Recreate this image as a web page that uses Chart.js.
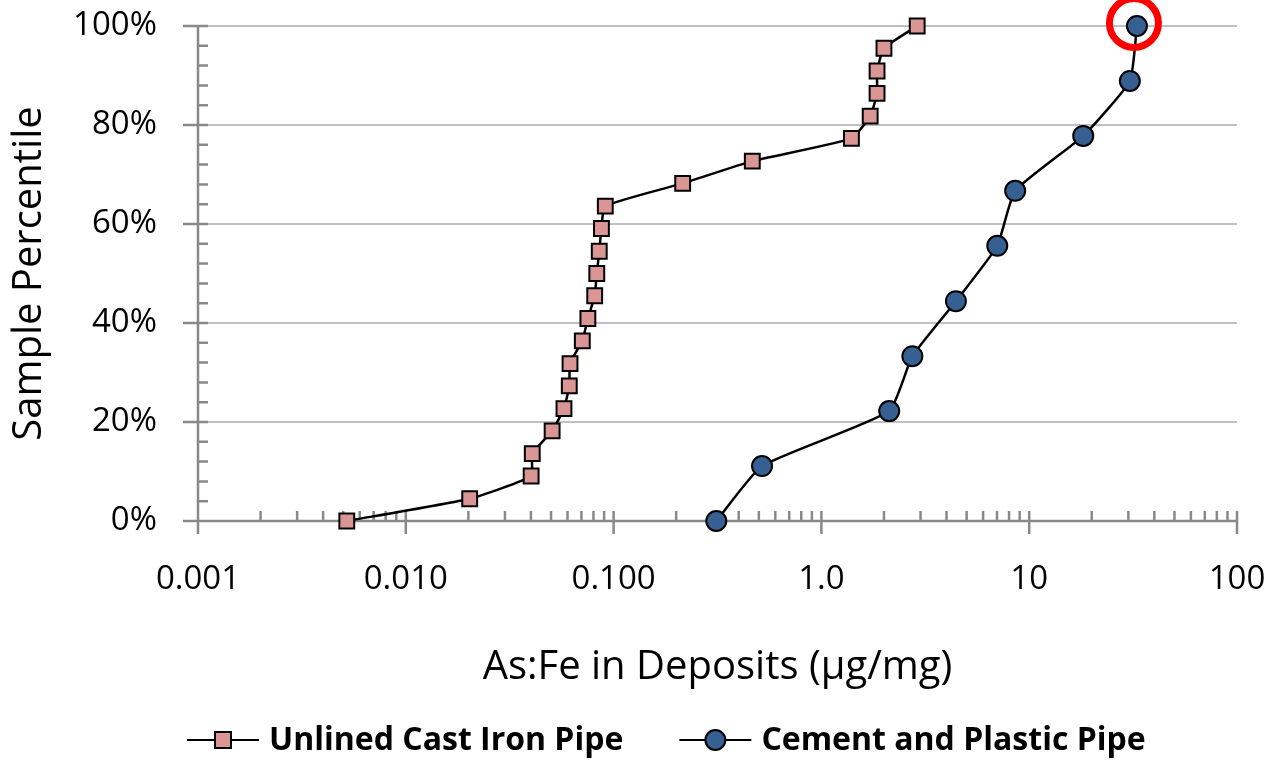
<!DOCTYPE html>
<html lang="en">
<head>
<meta charset="UTF-8" />
<title>As:Fe in Deposits</title>
<script src="https://cdn.jsdelivr.net/npm/chart.js"></script>
<style>
    html, body { margin: 0; padding: 0; background: #fff; }
    #wrap { width: 1283px; height: 760px; }
</style>
</head>
<body>
<div id="wrap"><canvas id="chart"></canvas></div>
<script>
// As:Fe ratio (ug/mg) and sample percentile for each pipe type
const castIronRatio = [0.0052, 0.0203, 0.0401, 0.0406, 0.0506, 0.0577, 0.0612, 0.0617, 0.0707, 0.0752,
    0.0811, 0.083, 0.0853, 0.0874, 0.0912, 0.215, 0.465, 1.395, 1.717, 1.853, 1.853, 2.0, 2.89];
const castIronPct = [0, 4.5, 9.1, 13.6, 18.2, 22.7, 27.3, 31.8, 36.4, 40.9,
    45.5, 50, 54.5, 59.1, 63.6, 68.2, 72.7, 77.3, 81.8, 86.4, 90.9, 95.5, 100];
const cementRatio = [0.312, 0.518, 2.12, 2.74, 4.44, 7.02, 8.56, 18.2, 30.5, 33.0];
const cementPct = [0, 11.1, 22.2, 33.3, 44.4, 55.6, 66.7, 77.8, 88.9, 100];

const seriesNames = ["Unlined Cast Iron Pipe", "Cement and Plastic Pipe"];
const xTickValues = [0.001, 0.01, 0.1, 1, 10, 100];
const xTickLabels = ["0.001", "0.010", "0.100", "1.0", "10", "100"];
const yTickValues = [0, 20, 40, 60, 80, 100];
const yTickLabels = ["0%", "20%", "40%", "60%", "80%", "100%"];

const FONT = "'Open Sans', sans-serif";
const AXIS = "#898989";
Chart.defaults.font.family = FONT;
Chart.defaults.color = "#000";

function toPoints(xs, ys) {
    return xs.map((x, i) => ({ x: x, y: ys[i] }));
}

// tick marks on both axes, Excel style (majors cross, minors inside)
const axisTicks = {
    id: "axisTicks",
    beforeDatasetsDraw(chart) {
        const ctx = chart.ctx;
        const xs = chart.scales.x, ys = chart.scales.y;
        const a = chart.chartArea;
        ctx.save();
        ctx.strokeStyle = AXIS;
        ctx.lineWidth = 2.5;
        ctx.beginPath();
        ctx.moveTo(a.left, a.top);
        ctx.lineTo(a.left, a.bottom);
        ctx.moveTo(a.left, a.bottom);
        ctx.lineTo(a.right, a.bottom);
        // y ticks, minor every 4%
        for (let v = 0; v <= 100; v += 4) {
            const py = ys.getPixelForValue(v);
            const major = v % 20 === 0;
            ctx.moveTo(major ? a.left - 15 : a.left, py);
            ctx.lineTo(a.left + 10, py);
        }
        // x ticks, minor 2..9 of each decade
        for (let d = -3; d <= 2; d++) {
            const px = xs.getPixelForValue(Math.pow(10, d));
            ctx.moveTo(px, a.bottom - 10);
            ctx.lineTo(px, a.bottom + 13);
            if (d === 2) break;
            for (let k = 2; k <= 9; k++) {
                const mx = xs.getPixelForValue(k * Math.pow(10, d));
                ctx.moveTo(mx, a.bottom - 10);
                ctx.lineTo(mx, a.bottom);
            }
        }
        ctx.stroke();
        ctx.restore();
    }
};

// red ring around the highest cement/plastic sample
const highlight = {
    id: "highlight",
    afterDatasetsDraw(chart) {
        const meta = chart.getDatasetMeta(1);
        const pt = meta.data[meta.data.length - 1];
        const ctx = chart.ctx;
        ctx.save();
        ctx.strokeStyle = "#ff0000";
        ctx.lineWidth = 7;
        ctx.beginPath();
        ctx.arc(pt.x - 3, pt.y - 3, 24.5, 0, Math.PI * 2);
        ctx.stroke();
        ctx.restore();
    }
};

// legend with line + marker swatch
const lineLegend = {
    id: "lineLegend",
    afterDraw(chart) {
        const ctx = chart.ctx;
        const y = 740;
        let x = 187;
        ctx.save();
        ctx.font = "bold 32px " + FONT;
        ctx.textBaseline = "middle";
        chart.data.datasets.forEach((ds, i) => {
            ctx.strokeStyle = "#000";
            ctx.lineWidth = 2;
            ctx.beginPath();
            ctx.moveTo(x, y);
            ctx.lineTo(x + 72, y);
            ctx.stroke();
            ctx.fillStyle = ds.backgroundColor;
            ctx.beginPath();
            if (ds.pointStyle === "rect") {
                ctx.rect(x + 36 - 8, y - 8, 16, 16);
            } else {
                ctx.arc(x + 36, y, 10, 0, Math.PI * 2);
            }
            ctx.fill();
            ctx.stroke();
            ctx.fillStyle = "#000";
            ctx.fillText(ds.label, x + 82, y + 1);
            x += 82 + ctx.measureText(ds.label).width + 56;
        });
        ctx.restore();
    }
};

new Chart(document.getElementById("chart"), {
    type: "scatter",
    data: {
        datasets: [
            {
                label: seriesNames[0],
                data: toPoints(castIronRatio, castIronPct),
                showLine: true,
                tension: 0.15,
                borderColor: "#000",
                borderWidth: 2.5,
                backgroundColor: "#d99694",
                pointStyle: "rect",
                pointRadius: 10.5,
                pointBorderColor: "#000",
                pointBorderWidth: 2,
                clip: false
            },
            {
                label: seriesNames[1],
                data: toPoints(cementRatio, cementPct),
                showLine: true,
                tension: 0.15,
                borderColor: "#000",
                borderWidth: 2.5,
                backgroundColor: "#376092",
                pointStyle: "circle",
                pointRadius: 10,
                pointBorderColor: "#000",
                pointBorderWidth: 2,
                clip: false
            }
        ]
    },
    options: {
        responsive: true,
        maintainAspectRatio: false,
        animation: false,
        layout: { padding: { top: 26, right: 46, left: 0, bottom: 41 } },
        plugins: {
            legend: { display: false },
            tooltip: { enabled: false }
        },
        scales: {
            x: {
                type: "logarithmic",
                min: 0.001,
                max: 100,
                afterBuildTicks: (s) => { s.ticks = xTickValues.map(v => ({ value: v })); },
                afterFit: (s) => { s.height = 198; },
                ticks: {
                    padding: 0,
                    maxRotation: 0,
                    autoSkip: false,
                    font: { size: 33 },
                    callback: (v, i) => xTickLabels[i]
                },
                grid: {
                    drawOnChartArea: false,
                    drawTicks: true,
                    tickLength: 39,
                    tickColor: "rgba(0,0,0,0)"
                },
                border: { display: false },
                title: {
                    display: true,
                    text: "As:Fe in Deposits (\u03bcg/mg)",
                    font: { size: 40 },
                    padding: { top: 0, bottom: 27 }
                }
            },
            y: {
                min: 0,
                max: 100,
                afterBuildTicks: (s) => { s.ticks = yTickValues.map(v => ({ value: v })); },
                afterFit: (s) => { s.width = 198; },
                ticks: {
                    padding: 0,
                    font: { size: 33 },
                    callback: (v, i) => yTickLabels[i]
                },
                grid: {
                    color: "#c0c0c0",
                    lineWidth: 2,
                    drawTicks: true,
                    tickLength: 41,
                    tickColor: "rgba(0,0,0,0)"
                },
                border: { display: false },
                title: {
                    display: true,
                    text: "Sample Percentile",
                    font: { size: 40 },
                    padding: { top: 6, bottom: 0 }
                }
            }
        }
    },
    plugins: [axisTicks, highlight, lineLegend]
});
</script>
</body>
</html>
